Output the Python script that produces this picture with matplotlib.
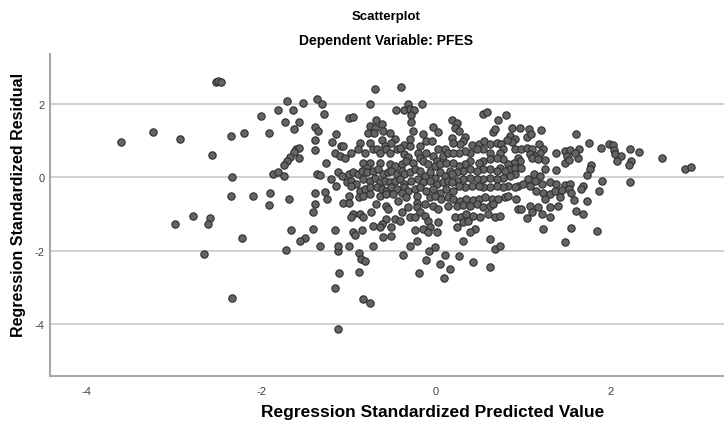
import matplotlib
matplotlib.use('Agg')
import matplotlib.pyplot as plt

plt.rcParams['font.family'] = ['Liberation Sans', 'DejaVu Sans']
plt.rcParams['axes.unicode_minus'] = False

# (predicted, residual) pairs, grouped by region
left_pts = [(-2.52, 2.58), (-2.49, 2.62), (-2.46, 2.60),
            (-3.61, 0.95), (-3.24, 1.23), (-2.93, 1.03), (-2.56, 0.61), (-2.35, 1.12),
            (-2.20, 1.20), (-2.00, 1.66), (-1.91, 1.20), (-2.34, 0.00), (-2.35, -0.52),
            (-2.10, -0.51), (-1.90, -0.42), (-1.91, -0.76), (-2.78, -1.05), (-2.59, -1.12),
            (-2.99, -1.27), (-2.61, -1.28), (-2.22, -1.65), (-2.66, -2.08), (-2.34, -3.28)]

upper_left = [(-0.70, 2.40), (-0.40, 2.45), (-1.70, 2.06), (-1.52, 2.01), (-1.36, 2.13),
              (-1.30, 1.98), (-1.81, 1.83), (-1.64, 1.84), (-1.73, 1.50), (-1.57, 1.50),
              (-1.62, 1.30), (-1.39, 1.37), (-1.35, 1.25), (-1.39, 1.00), (-1.38, 0.74),
              (-1.60, 0.78), (-1.57, 0.80), (-1.63, 0.69), (-1.57, 0.51), (-1.67, 0.56),
              (-1.71, 0.44), (-1.74, 0.33), (-1.87, 0.10), (-1.81, 0.13), (-1.74, 0.04),
              (-1.36, 0.08)]

lower_left = [(-1.68, -0.60), (-1.39, -0.42), (-1.38, -0.74), (-1.41, -0.96), (-1.66, -1.43),
              (-1.41, -1.42), (-1.50, -1.65), (-1.56, -1.74), (-1.72, -1.97), (-1.12, -2.00),
              (-0.88, -2.06), (-0.86, -2.22), (-0.81, -2.27), (-1.11, -2.61), (-0.88, -2.58),
              (-1.15, -3.02), (-0.38, -2.13), (-0.19, -2.61), (-0.11, -2.24), (-0.08, -2.00),
              (-0.84, -3.32), (-0.76, -3.42), (-1.12, -4.14)]

lower_mid = [(0.62, -2.43), (0.43, -2.31), (0.27, -2.15), (0.11, -2.11), (0.05, -2.36),
             (0.16, -2.49), (0.09, -2.74), (0.68, -1.95)]

right_pts = [(1.75, 0.94), (1.89, 0.79), (1.98, 0.91), (2.03, 0.88), (2.04, 0.73), (2.05, 0.62),
             (2.12, 0.58), (2.22, 0.76), (2.33, 0.69), (2.08, 0.44), (2.24, 0.44), (2.21, 0.33),
             (2.59, 0.51), (2.85, 0.22), (2.92, 0.29), (1.78, 0.33), (1.76, 0.22), (1.73, 0.06),
             (1.90, -0.10), (2.22, -0.13), (1.69, -0.25), (1.66, -0.31), (1.87, -0.38),
             (1.73, -0.65), (1.68, -1.00), (1.85, -1.47), (1.64, 0.78), (1.63, 0.53), (1.61, -0.91)]

core_left = [(-0.76, 1.99), (-0.32, 1.99), (-0.16, 2.00), (-1.28, 1.73), (-0.46, 1.84), (-0.37, 1.84),
             (-0.30, 1.86), (-0.25, 1.82), (-0.28, 1.68), (-0.29, 1.50), (-0.99, 1.60), (-0.95, 1.64),
             (-0.69, 1.57), (-0.62, 1.44), (-0.76, 1.39), (-0.70, 1.35), (-0.60, 1.26), (-0.03, 1.37),
             (0.02, 1.23), (-0.26, 1.27), (-0.15, 1.18), (-1.14, 1.17), (-0.78, 1.21), (-0.71, 1.21),
             (-0.53, 1.21), (-1.19, 0.97), (-1.09, 0.85), (-1.06, 0.85), (-0.87, 0.94), (-0.76, 0.94),
             (-0.62, 1.00), (-0.58, 0.85), (-0.47, 1.05), (-0.51, 0.94), (-0.37, 0.88), (-0.30, 0.85),
             (-0.30, 1.05), (-0.18, 0.85), (-0.11, 0.98), (-0.04, 0.98), (0.03, 0.78), (0.10, 0.76),
             (-1.15, 0.67), (-1.10, 0.58), (-1.04, 0.51), (-0.97, 0.65), (-0.89, 0.76), (-0.81, 0.67),
             (-0.72, 0.76), (-0.68, 0.78), (-0.64, 0.67), (-0.57, 0.76), (-0.53, 0.67), (-0.45, 0.76),
             (-0.41, 0.80), (-0.36, 0.62), (-0.32, 0.56), (-0.20, 0.67), (-0.18, 0.53), (-0.11, 0.67),
             (-0.03, 0.58), (0.01, 0.44), (0.08, 0.58), (0.14, 0.67), (-1.26, 0.38), (-0.83, 0.40),
             (-0.76, 0.40), (-0.79, 0.26), (-0.64, 0.40), (-0.53, 0.35), (-0.47, 0.31), (-0.39, 0.35),
             (-0.34, 0.44), (-0.26, 0.40), (-0.15, 0.44), (-0.09, 0.35), (-0.01, 0.31), (0.05, 0.35),
             (0.12, 0.40), (-1.33, 0.05), (-1.20, -0.04), (-1.12, 0.13), (-1.08, 0.02), (-1.00, 0.08),
             (-0.95, 0.13), (-0.89, 0.08), (-0.85, 0.17), (-0.79, 0.13), (-0.72, 0.17), (-0.66, 0.22),
             (-0.60, 0.08), (-0.55, 0.13), (-0.51, 0.17), (-0.45, 0.08), (-0.39, 0.17), (-0.36, 0.08),
             (-0.30, 0.13), (-0.24, 0.22), (-0.18, 0.17), (-0.13, 0.04), (-0.07, 0.13), (-0.01, -0.01),
             (0.05, 0.13), (0.10, 0.04), (0.16, 0.17), (-1.14, -0.25), (-1.02, -0.14), (-0.97, -0.10),
             (-0.91, -0.19), (-0.83, -0.05), (-0.76, -0.10), (-0.70, -0.01), (-0.64, -0.14),
             (-0.58, -0.10), (-0.53, -0.14), (-0.47, -0.10), (-0.41, -0.05), (-0.36, -0.19),
             (-0.28, -0.10), (-0.20, -0.05), (-0.15, -0.14), (-0.07, -0.10), (0.01, -0.19),
             (0.08, -0.14), (0.14, -0.10), (-1.27, -0.40), (-1.25, -0.58), (-0.97, -0.25),
             (-0.87, -0.37), (-0.81, -0.33), (-0.76, -0.28), (-0.68, -0.28), (-0.62, -0.33),
             (-0.57, -0.37), (-0.51, -0.28), (-0.45, -0.33), (-0.37, -0.28), (-0.32, -0.37),
             (-0.24, -0.33), (-0.18, -0.28), (-0.11, -0.37), (-0.03, -0.33), (0.05, -0.42),
             (0.12, -0.33), (-0.99, -0.51), (-1.06, -0.69), (-0.99, -0.69), (-0.88, -0.55),
             (-0.83, -0.51), (-0.76, -0.46), (-0.64, -0.51), (-0.57, -0.46), (-0.49, -0.46),
             (-0.39, -0.42), (-0.34, -0.55), (-0.22, -0.51), (-0.22, -0.69), (-0.07, -0.55),
             (-0.01, -0.51), (0.06, -0.60), (0.14, -0.55), (-0.69, -0.73), (-0.57, -0.78),
             (-0.55, -0.87), (-0.43, -0.64), (-0.32, -0.82), (-0.22, -0.82), (-0.18, -0.96),
             (-0.13, -0.73), (-0.03, -0.78), (0.03, -0.87), (0.14, -0.78), (-0.95, -1.00),
             (-0.97, -1.09), (-0.87, -1.00), (-0.84, -1.09), (-0.74, -0.96), (-0.57, -1.14),
             (-0.47, -1.14), (-0.39, -0.96), (-0.41, -1.18), (-0.30, -1.09), (-0.24, -1.09),
             (-0.13, -1.05), (-0.09, -1.18), (-0.07, -1.36), (0.03, -1.23), (-0.72, -1.32),
             (-0.62, -1.27), (-0.64, -1.36), (-0.51, -1.36), (-1.16, -1.45), (-0.95, -1.50),
             (-0.93, -1.57), (-0.85, -1.45), (-0.60, -1.64), (-0.51, -1.59), (-0.24, -1.45),
             (-0.15, -1.41), (-0.09, -1.50), (0.01, -1.50), (-1.33, -1.86), (-1.12, -1.86),
             (-0.99, -1.86), (-0.72, -1.86), (-0.30, -1.86), (-0.22, -1.73), (-0.01, -1.91)]

core_right = [(0.54, 1.71), (0.59, 1.77), (0.71, 1.55), (0.80, 1.68), (0.18, 1.55), (0.24, 1.48),
              (0.22, 1.35), (0.27, 1.26), (0.33, 1.10), (0.31, 0.98), (0.28, 0.89), (0.18, 1.07),
              (0.20, 0.94), (0.66, 1.24), (0.68, 1.30), (0.87, 1.35), (0.96, 1.33), (1.07, 1.32),
              (1.20, 1.28), (0.85, 1.12), (0.91, 1.05), (0.87, 0.96), (0.82, 1.01), (1.04, 1.10),
              (1.09, 1.18), (1.60, 1.17), (0.41, 0.87), (0.49, 0.89), (0.55, 0.98), (0.62, 0.91),
              (0.70, 0.94), (0.75, 0.89), (0.77, 0.76), (0.73, 0.67), (0.62, 0.67), (0.54, 0.76),
              (0.47, 0.76), (0.39, 0.67), (0.33, 0.71), (0.26, 0.67), (0.20, 0.65), (0.91, 0.76),
              (0.98, 0.78), (1.04, 0.80), (1.10, 0.76), (1.18, 0.91), (1.23, 0.76), (1.19, 0.67),
              (1.38, 0.67), (1.48, 0.71), (1.54, 0.74), (1.59, 0.67), (1.50, 0.58), (1.48, 0.40),
              (1.52, 0.46), (1.08, 0.62), (1.13, 0.58), (1.10, 0.51), (1.17, 0.49), (1.25, 0.46),
              (1.25, 0.22), (1.38, 0.20), (0.94, 0.53), (0.96, 0.44), (0.89, 0.40), (0.83, 0.35),
              (0.85, 0.22), (0.91, 0.26), (0.98, 0.26), (0.77, 0.49), (0.70, 0.53), (0.62, 0.49),
              (0.54, 0.44), (0.49, 0.40), (0.39, 0.44), (0.33, 0.35), (0.26, 0.31), (0.20, 0.40),
              (0.73, 0.26), (0.79, 0.17), (0.70, 0.17), (0.62, 0.22), (0.54, 0.22), (0.47, 0.17),
              (0.39, 0.22), (0.31, 0.17), (0.24, 0.13), (0.18, 0.08), (0.91, 0.08), (0.85, 0.04),
              (0.77, -0.01), (0.70, -0.05), (0.62, -0.01), (0.54, -0.05), (0.47, -0.04), (0.39, -0.01),
              (0.31, -0.05), (0.24, -0.10), (0.18, -0.14), (1.12, 0.08), (1.19, 0.04), (1.06, -0.05),
              (1.13, -0.10), (1.21, -0.19), (1.31, -0.14), (1.38, -0.19), (1.48, -0.21), (1.54, -0.19),
              (0.94, -0.23), (1.00, -0.19), (1.08, -0.25), (0.91, -0.28), (0.83, -0.23), (0.77, -0.28),
              (0.70, -0.25), (0.62, -0.28), (0.54, -0.28), (0.49, -0.25), (0.41, -0.25), (0.33, -0.28),
              (0.26, -0.25), (0.20, -0.37), (1.15, -0.37), (1.23, -0.42), (1.31, -0.46), (1.36, -0.37),
              (1.44, -0.34), (1.52, -0.33), (1.55, -0.43), (1.42, -0.55), (1.40, -0.78), (1.58, -0.62),
              (1.25, -0.60), (0.20, -0.60), (0.28, -0.64), (0.35, -0.60), (0.43, -0.61), (0.49, -0.60),
              (0.56, -0.55), (0.64, -0.60), (0.71, -0.60), (0.79, -0.55), (0.83, -0.51), (0.24, -0.78),
              (0.31, -0.76), (0.39, -0.78), (0.47, -0.73), (0.54, -0.82), (0.62, -0.78), (0.66, -0.73),
              (0.92, -0.60), (0.94, -0.87), (0.98, -0.87), (1.08, -0.78), (1.10, -0.96), (1.17, -0.82),
              (1.21, -1.00), (1.31, -1.07), (1.31, -0.82), (1.04, -1.12), (1.23, -1.41), (0.22, -1.07),
              (0.24, -1.36), (0.29, -1.09), (0.31, -1.23), (0.35, -1.00), (0.37, -1.18), (0.43, -1.05),
              (0.45, -1.41), (0.50, -1.09), (0.60, -1.00), (0.68, -1.07), (0.73, -1.05), (0.39, -1.50),
              (0.31, -1.73), (0.62, -1.68), (0.73, -1.86), (1.48, -1.77), (1.55, -1.39)]

x_ticks = [-4, -2, 0, 2]
y_ticks = [-4, -2, 0, 2]

pts = left_pts + upper_left + lower_left + lower_mid + right_pts + core_left + core_right
pred = [p[0] for p in pts]
resid = [p[1] for p in pts]

fig = plt.figure(figsize=(7.24, 4.27), dpi=100)
ax = fig.add_axes([0.069, 0.117, 0.931, 0.754])

ax.scatter(pred, resid, s=28, c='#646464', edgecolors='#2e2e2e', linewidths=0.8, zorder=3)

ax.set_xlim(-4.42, 3.30)
ax.set_ylim(-5.41, 3.35)
ax.set_xticks(x_ticks)
ax.set_yticks(y_ticks)
ax.grid(axis='y', color='#c8c8c8', lw=1.2)
ax.tick_params(length=0, labelsize=8, colors='#444444')
ax.tick_params(axis='x', pad=7)
ax.tick_params(axis='y', pad=4)
for s in ['top', 'right']:
    ax.spines[s].set_visible(False)
for s in ['left', 'bottom']:
    ax.spines[s].set_color('#a8a8a8')
    ax.spines[s].set_linewidth(1.5)

fig.text(0.533, 0.96, 'Scatterplot', ha='center', va='center', fontsize=9.5, fontweight='bold')
fig.text(0.533, 0.904, 'Dependent Variable: PFES', ha='center', va='center', fontsize=10, fontweight='bold')
fig.text(0.598, 0.035, 'Regression Standardized Predicted Value', ha='center', va='center',
         fontsize=12.5, fontweight='bold')
fig.text(0.025, 0.52, 'Regression Standardized Residual', ha='center', va='center',
         rotation=90, fontsize=11.5, fontweight='bold')

fig.savefig('out.png', dpi=100)
